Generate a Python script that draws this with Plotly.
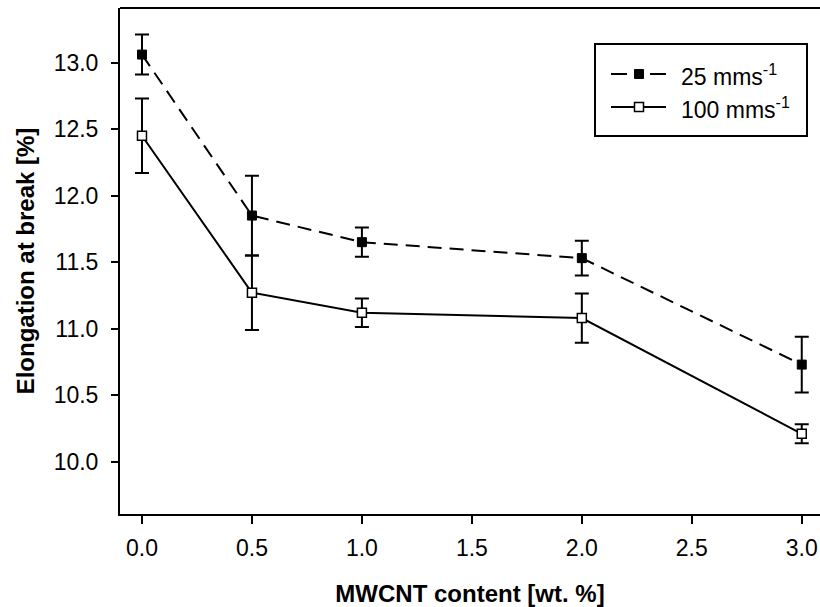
import plotly.graph_objects as go

mwcnt = [0.0, 0.5, 1.0, 2.0, 3.0]
elong_25 = [13.06, 11.85, 11.65, 11.53, 10.73]
err_25 = [0.15, 0.30, 0.11, 0.13, 0.21]
elong_100 = [12.45, 11.27, 11.12, 11.08, 10.21]
err_100 = [0.28, 0.28, 0.107, 0.185, 0.072]
x_ticks = [0.0, 0.5, 1.0, 1.5, 2.0, 2.5, 3.0]
y_ticks = [10.0, 10.5, 11.0, 11.5, 12.0, 12.5, 13.0]
series_names = ["25 mms<sup>-1</sup>", "100 mms<sup>-1</sup>"]

FONT = "Liberation Sans, Arial, sans-serif"

# plot-area pixel geometry (used only for legend placement)
L, R, T, B = 120, 820, 8, 514
def px(x):
    return (x - L) / (R - L)
def py(y):
    return (B - y) / (B - T)

fig = go.Figure()
fig.add_trace(go.Scatter(
    x=mwcnt, y=elong_25, mode="lines+markers", name=series_names[0],
    line=dict(color="black", width=2, dash="14px,8px"),
    marker=dict(symbol="square", size=9, color="black", line=dict(color="black", width=1)),
    error_y=dict(type="data", array=err_25, visible=True, color="black", thickness=2, width=7),
    showlegend=False,
))
fig.add_trace(go.Scatter(
    x=mwcnt, y=elong_100, mode="lines+markers", name=series_names[1],
    line=dict(color="black", width=2),
    marker=dict(symbol="square", size=9, color="white", line=dict(color="black", width=1.5)),
    error_y=dict(type="data", array=err_100, visible=True, color="black", thickness=2, width=7),
    showlegend=False,
))

# top frame line
fig.add_shape(type="line", xref="paper", yref="paper", x0=0, x1=1, y0=1, y1=1,
              line=dict(color="black", width=2))

# custom legend box
fig.add_shape(type="rect", xref="paper", yref="paper",
              x0=px(595), x1=px(807), y0=py(136), y1=py(44),
              line=dict(color="black", width=2), fillcolor="white", layer="above")
ys = [74, 107]
# entry 1: dashed line with filled square
fig.add_shape(type="line", xref="paper", yref="paper", x0=px(611), x1=px(627), y0=py(ys[0]), y1=py(ys[0]),
              line=dict(color="black", width=2), layer="above")
fig.add_shape(type="line", xref="paper", yref="paper", x0=px(650), x1=px(666), y0=py(ys[0]), y1=py(ys[0]),
              line=dict(color="black", width=2), layer="above")
fig.add_shape(type="rect", xref="paper", yref="paper", x0=px(634.5), x1=px(643.5),
              y0=py(ys[0] + 4.5), y1=py(ys[0] - 4.5),
              line=dict(color="black", width=1), fillcolor="black", layer="above")
# entry 2: solid line with open square
fig.add_shape(type="line", xref="paper", yref="paper", x0=px(611), x1=px(666), y0=py(ys[1]), y1=py(ys[1]),
              line=dict(color="black", width=2), layer="above")
fig.add_shape(type="rect", xref="paper", yref="paper", x0=px(634.5), x1=px(643.5),
              y0=py(ys[1] + 4.5), y1=py(ys[1] - 4.5),
              line=dict(color="black", width=1.5), fillcolor="white", layer="above")
for name, yy in zip(series_names, ys):
    fig.add_annotation(xref="paper", yref="paper", x=px(679), y=py(yy + 1), text=name,
                       showarrow=False, xanchor="left", yanchor="middle",
                       font=dict(family=FONT, size=23, color="black"))

fig.update_layout(
    width=820, height=607,
    margin=dict(l=L, r=820 - R, t=T, b=607 - B),
    paper_bgcolor="white", plot_bgcolor="white",
    font=dict(family=FONT, size=23, color="black"),
    showlegend=False,
    xaxis=dict(range=[-0.1, 3.083], tickvals=x_ticks, ticktext=[f"{v:.1f}" for v in x_ticks],
               showline=True, linecolor="black", linewidth=2, ticks="outside", ticklen=8,
               tickwidth=2, tickcolor="black", showgrid=False, zeroline=False,
               tickfont=dict(family=FONT, size=23), ticklabelstandoff=4,
               title=dict(text="<b>MWCNT content [wt. %]</b>", font=dict(family=FONT, size=24),
                          standoff=28)),
    yaxis=dict(range=[9.607, 13.41], tickvals=y_ticks, ticktext=[f"{v:.1f}" for v in y_ticks],
               showline=True, linecolor="black", linewidth=2, ticks="outside", ticklen=7,
               tickwidth=2, tickcolor="black", showgrid=False, zeroline=False,
               tickfont=dict(family=FONT, size=23), ticklabelstandoff=8,
               title=dict(text="<b>Elongation at break [%]</b>", font=dict(family=FONT, size=24),
                          standoff=12)),
)

fig.write_html("out.html")
